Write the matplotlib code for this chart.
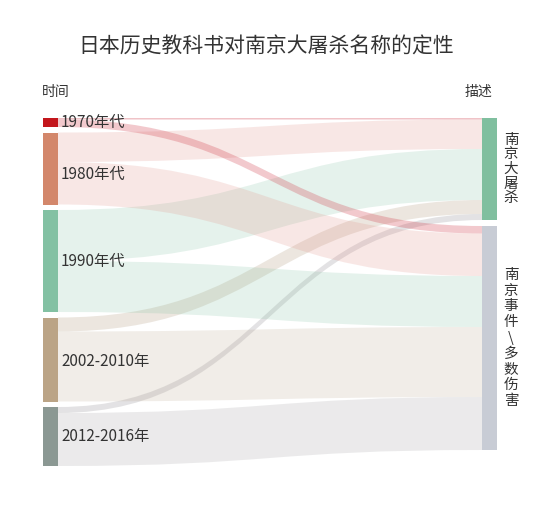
import matplotlib
matplotlib.use('Agg')
import matplotlib.pyplot as plt
from matplotlib.path import Path
from matplotlib.patches import PathPatch, Rectangle

plt.rcParams['font.family'] = ['Noto Sans CJK SC', 'DejaVu Sans']

# ---- data ----
title = '日本历史教科书对南京大屠杀名称的定性'
left_header = '时间'
right_header = '描述'
periods = ['1970年代', '1980年代', '1990年代', '2002-2010年', '2012-2016年']
terms = ['南京大屠杀', '南京事件\\多数伤害']
to_massacre = [1.5, 29.5, 51, 14, 6]      # flow: period -> 南京大屠杀
to_incident = [7.5, 42.5, 51, 70, 53]     # flow: period -> 南京事件/多数伤害

# ---- style ----
period_colors = ['#c3161c', '#d3876b', '#83c1a3', '#bba486', '#8b9893']
term_colors = ['#80bf9f', '#c8ccd5']
flow_colors = ['#d03a48', '#e08a80', '#7fc0a0', '#b9a58c', '#9c9a9e']
flow_alpha_massacre = [0.3, 0.2, 0.2, 0.27, 0.28]
flow_alpha_incident = [0.27, 0.2, 0.2, 0.2, 0.2]
label_dy = [0, 6, 0, 2, 0]
text_color = '#333333'

fig = plt.figure(figsize=(5.5, 5.13), dpi=100)
ax = fig.add_axes([0, 0, 1, 1])
ax.set_xlim(0, 550)
ax.set_ylim(513, 0)
ax.axis('off')

scale = 1.0
top = 118
x_left, x_right, node_w = 43, 482, 15
gap_left, gap_right = 5.5, 6

flows = [to_massacre, to_incident]
left_tot = [a + b for a, b in zip(to_massacre, to_incident)]
right_tot = [sum(to_massacre), sum(to_incident)]

# node positions
left_y = []
y = top
for v in left_tot:
    left_y.append(y)
    y += v * scale + gap_left
right_y = []
y = top
for v in right_tot:
    right_y.append(y)
    y += v * scale + gap_right

# flows
xs = x_left + node_w
xt = x_right
xm = (xs + xt) / 2
tgt_off = list(right_y)
alphas = [flow_alpha_massacre, flow_alpha_incident]
for t in range(2):
    for s in range(len(periods)):
        v = flows[t][s] * scale
        s0 = left_y[s] + (0 if t == 0 else to_massacre[s] * scale)
        s1 = s0 + v
        t0 = tgt_off[t]
        t1 = t0 + v
        tgt_off[t] = t1
        verts = [(xs, s0), (xm, s0), (xm, t0), (xt, t0), (xt, t1),
                 (xm, t1), (xm, s1), (xs, s1), (xs, s0)]
        codes = [Path.MOVETO, Path.CURVE4, Path.CURVE4, Path.CURVE4, Path.LINETO,
                 Path.CURVE4, Path.CURVE4, Path.CURVE4, Path.CLOSEPOLY]
        ax.add_patch(PathPatch(Path(verts, codes), facecolor=flow_colors[s],
                               edgecolor='none', alpha=alphas[t][s], zorder=1))

# nodes
for i, (y0, v) in enumerate(zip(left_y, left_tot)):
    ax.add_patch(Rectangle((x_left, y0), node_w, v * scale,
                           facecolor=period_colors[i], edgecolor='none', zorder=3))
    ax.text(x_left + node_w + 3, y0 + v * scale / 2 + label_dy[i], periods[i],
            ha='left', va='center', fontsize=11, color=text_color, zorder=4)
for i, (y0, v) in enumerate(zip(right_y, right_tot)):
    ax.add_patch(Rectangle((x_right, y0), node_w, v * scale,
                           facecolor=term_colors[i], edgecolor='none', zorder=3))
    ax.text(511, y0 + v * scale / 2, '\n'.join(terms[i]), ha='center', va='center',
            fontsize=10.5, color=text_color, linespacing=1.06 if i == 0 else 1.16,
            zorder=4)

ax.text(266, 47, title, ha='center', va='center', fontsize=15, color=text_color)
ax.text(42, 92, left_header, ha='left', va='center', fontsize=10, color=text_color)
ax.text(492, 92, right_header, ha='right', va='center', fontsize=10, color=text_color)

fig.savefig('out.png', dpi=100, facecolor='white')
